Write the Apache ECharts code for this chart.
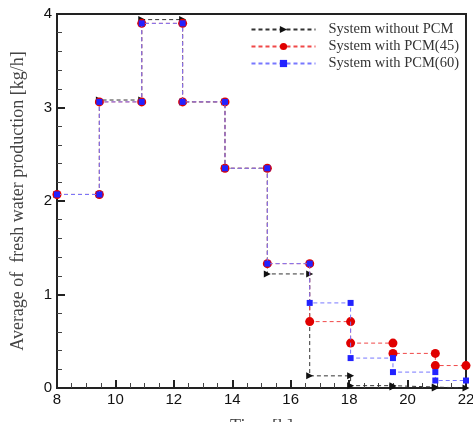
<!DOCTYPE html>
<html>
<head>
<meta charset="utf-8">
<script src="https://cdn.jsdelivr.net/npm/echarts@6/dist/echarts.min.js"></script>
<style>
  html, body { margin: 0; padding: 0; background: #fff; }
  #main { width: 473px; height: 422px; }
</style>
</head>
<body>
<div id="main"></div>
<script>
  // interval edges (h) of the step curves
  var times = [8, 9.45, 10.9, 12.3, 13.75, 15.2, 16.65, 18.05, 19.5, 20.95, 22];
  // one value per interval
  var noPCM = [2.07, 3.08, 3.94, 3.06, 2.35, 1.22, 0.13, 0.025, 0.01, 0.0];
  var pcm45 = [2.07, 3.06, 3.90, 3.06, 2.35, 1.33, 0.71, 0.48, 0.37, 0.24];
  var pcm60 = [2.07, 3.06, 3.90, 3.06, 2.35, 1.33, 0.91, 0.32, 0.17, 0.08];
  var names = ['System without PCM', 'System with PCM(45)', 'System with PCM(60)'];

  // every interval -> two points, so markers sit at both ends of each step
  function steps(vals) {
    var out = [];
    for (var i = 0; i < vals.length; i++) {
      out.push([times[i], vals[i]]);
      out.push([times[i + 1], vals[i]]);
    }
    return out;
  }

  var myChart = echarts.init(document.getElementById('main'));

  var option = {
    animation: false,
    grid: {
      left: 57, top: 14, right: 7, bottom: 34,
      containLabel: false,
      outerBoundsMode: 'none',
      show: true, borderColor: '#222', borderWidth: 2
    },
    legend: {
      data: names,
      orient: 'vertical',
      right: 9,
      top: 17,
      itemWidth: 64,
      itemHeight: 9,
      itemGap: 2,
      textStyle: {
        fontFamily: 'Liberation Serif', fontSize: 14.5, color: '#333',
        lineHeight: 15, padding: [0, 0, 0, 8]
      }
    },
    xAxis: {
      type: 'value',
      min: 8, max: 22, interval: 2,
      name: 'Time [h]',
      nameLocation: 'middle',
      nameGap: 30,
      nameTextStyle: { fontFamily: 'Liberation Serif', fontSize: 18, color: '#444' },
      axisLine: { lineStyle: { color: '#222', width: 2 } },
      axisTick: { inside: true, length: 8, lineStyle: { color: '#222', width: 2 } },
      minorTick: { show: true, splitNumber: 4, length: 5, lineStyle: { color: '#444' } },
      axisLabel: { fontFamily: 'Liberation Sans', fontSize: 15, color: '#111', margin: 4 },
      splitLine: { show: false }
    },
    yAxis: {
      type: 'value',
      min: 0, max: 4, interval: 1,
      name: 'Average of  fresh water production [kg/h]',
      nameLocation: 'middle',
      nameGap: 30,
      nameTextStyle: { fontFamily: 'Liberation Serif', fontSize: 18, color: '#444' },
      axisLine: { lineStyle: { color: '#222', width: 2 } },
      axisTick: { inside: true, length: 8, lineStyle: { color: '#222', width: 2 } },
      minorTick: { show: true, splitNumber: 5, length: 5, lineStyle: { color: '#444' } },
      axisLabel: { fontFamily: 'Liberation Sans', fontSize: 15, color: '#111', margin: 5 },
      splitLine: { show: false }
    },
    series: [
      {
        name: names[0],
        type: 'line',
        data: steps(noPCM),
        z: 2,
        symbol: 'triangle',
        symbolRotate: -90,
        symbolSize: 7,
        itemStyle: { color: '#111' },
        lineStyle: { color: '#333', width: 1, type: [4, 3] }
      },
      {
        name: names[1],
        type: 'line',
        data: steps(pcm45),
        z: 3,
        symbol: 'circle',
        symbolSize: 9,
        itemStyle: { color: '#e00000' },
        lineStyle: { color: '#f04848', width: 1, type: [4, 3] }
      },
      {
        name: names[2],
        type: 'line',
        data: steps(pcm60),
        z: 4,
        symbol: 'rect',
        symbolSize: 6,
        itemStyle: { color: '#2222ff' },
        lineStyle: { color: '#7878ff', width: 1, type: [4, 3] }
      }
    ]
  };

  myChart.setOption(option);
</script>
</body>
</html>
